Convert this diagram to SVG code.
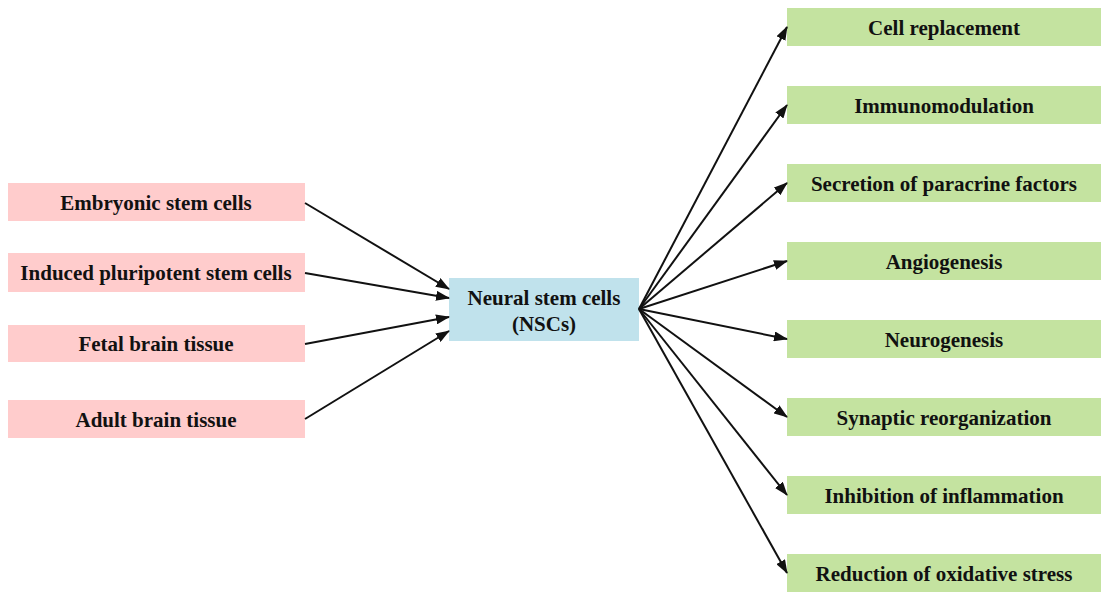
<svg xmlns="http://www.w3.org/2000/svg" width="1101" height="592" viewBox="0 0 1101 592">
<defs>
<style>
.src{fill:#FFCCCC}
.tgt{fill:#C4E3A0}
.ctr{fill:#C0E2EC}
text{font-family:"Liberation Serif","Times New Roman",serif;font-weight:bold;font-size:21px;fill:#111;text-anchor:middle;dominant-baseline:central}
.conn line{stroke:#111;stroke-width:2;marker-end:url(#ah)}
</style>
<marker id="ah" markerUnits="userSpaceOnUse" markerWidth="14" markerHeight="10" refX="13" refY="5" orient="auto">
<path d="M0,0 L14,5 L0,10 Z" fill="#111"/>
</marker>
</defs>
<rect width="1101" height="592" fill="#fff"/>
<g id="n-embryonic"><rect class="src" x="8" y="183" width="297" height="38"/><text x="156" y="203">Embryonic stem cells</text></g>
<g id="n-ipsc"><rect class="src" x="8" y="253" width="297" height="39"/><text x="156" y="273">Induced pluripotent stem cells</text></g>
<g id="n-fetal"><rect class="src" x="8" y="325" width="297" height="37"/><text x="156" y="344">Fetal brain tissue</text></g>
<g id="n-adult"><rect class="src" x="8" y="400" width="297" height="38"/><text x="156" y="420">Adult brain tissue</text></g>
<g id="n-nsc"><rect class="ctr" x="449" y="278" width="190" height="63"/><text x="544" y="298">Neural stem cells</text><text x="544" y="324">(NSCs)</text></g>
<g id="n-cell"><rect class="tgt" x="787" y="8" width="314" height="38"/><text x="944" y="28">Cell replacement</text></g>
<g id="n-immuno"><rect class="tgt" x="787" y="86" width="314" height="38"/><text x="944" y="106">Immunomodulation</text></g>
<g id="n-secretion"><rect class="tgt" x="787" y="164" width="314" height="38"/><text x="944" y="184">Secretion of paracrine factors</text></g>
<g id="n-angio"><rect class="tgt" x="787" y="242" width="314" height="38"/><text x="944" y="262">Angiogenesis</text></g>
<g id="n-neuro"><rect class="tgt" x="787" y="320" width="314" height="38"/><text x="944" y="340">Neurogenesis</text></g>
<g id="n-synaptic"><rect class="tgt" x="787" y="398" width="314" height="38"/><text x="944" y="418">Synaptic reorganization</text></g>
<g id="n-inhib"><rect class="tgt" x="787" y="476" width="314" height="38"/><text x="944" y="496">Inhibition of inflammation</text></g>
<g id="n-redox"><rect class="tgt" x="787" y="554" width="314" height="38"/><text x="944" y="574">Reduction of oxidative stress</text></g>
<g class="conn" id="connectors">
<line x1="305" y1="203" x2="449" y2="289"/>
<line x1="305" y1="273" x2="449" y2="298"/>
<line x1="305" y1="344" x2="449" y2="317"/>
<line x1="305" y1="419" x2="449" y2="331"/>
<line x1="639" y1="309" x2="787" y2="27"/>
<line x1="639" y1="309" x2="787" y2="105"/>
<line x1="639" y1="309" x2="787" y2="183"/>
<line x1="639" y1="309" x2="787" y2="261"/>
<line x1="639" y1="309" x2="787" y2="339"/>
<line x1="639" y1="309" x2="787" y2="417"/>
<line x1="639" y1="309" x2="787" y2="495"/>
<line x1="639" y1="309" x2="787" y2="573"/>
</g>
</svg>
